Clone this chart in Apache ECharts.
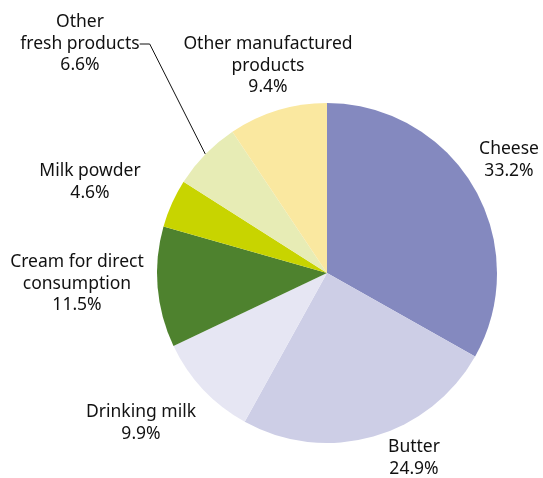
<!DOCTYPE html>
<html>
<head>
<meta charset="utf-8">
<script src="https://cdn.jsdelivr.net/npm/echarts@6/dist/echarts.min.js"></script>
<style>
  html, body { margin: 0; padding: 0; background: #fff; }
  #chart { width: 543px; height: 478px; }
</style>
</head>
<body>
<div id="chart"></div>
<script>
// data
var categories = ['Cheese', 'Butter', 'Drinking milk', 'Cream for direct\nconsumption', 'Milk powder', 'Other\nfresh products', 'Other manufactured\nproducts'];
var shares = [33.2, 24.9, 9.9, 11.5, 4.6, 6.6, 9.4];

var colors = ['#8489bf', '#cdcee6', '#e6e6f3', '#4e822e', '#c8d400', '#e7ecb5', '#fae8a0'];
// label centres (px)
var labelPos = [[509, 160], [414, 458], [141, 423], [77, 284], [90, 182], [80, 44], [268, 66]];

var chart = echarts.init(document.getElementById('chart'));

var data = categories.map(function (name, i) {
    return {
        name: name,
        value: shares[i],
        itemStyle: { color: colors[i] },
        labelLine: { show: i === 5 }
    };
});

chart.setOption({
    animation: false,
    series: [{
        type: 'pie',
        center: [327, 273],
        radius: 170,
        startAngle: 90,
        clockwise: true,
        data: data,
        label: {
            show: true,
            position: 'outside',
            formatter: function (p) {
                return p.name + '\n' + p.value.toFixed(1) + '%';
            },
            fontFamily: 'Noto Sans',
            fontSize: 17.5,
            lineHeight: 21.5,
            color: '#111',
            align: 'center',
            overflow: 'none'
        },
        labelLine: {
            length: 10,
            length2: 10,
            lineStyle: { color: '#111', width: 1 }
        },
        labelLayout: function (p) {
            var pos = labelPos[p.dataIndex];
            return {
                x: pos[0],
                y: pos[1],
                align: 'center',
                verticalAlign: 'middle'
            };
        },
        emphasis: { disabled: true }
    }]
});
</script>
</body>
</html>
